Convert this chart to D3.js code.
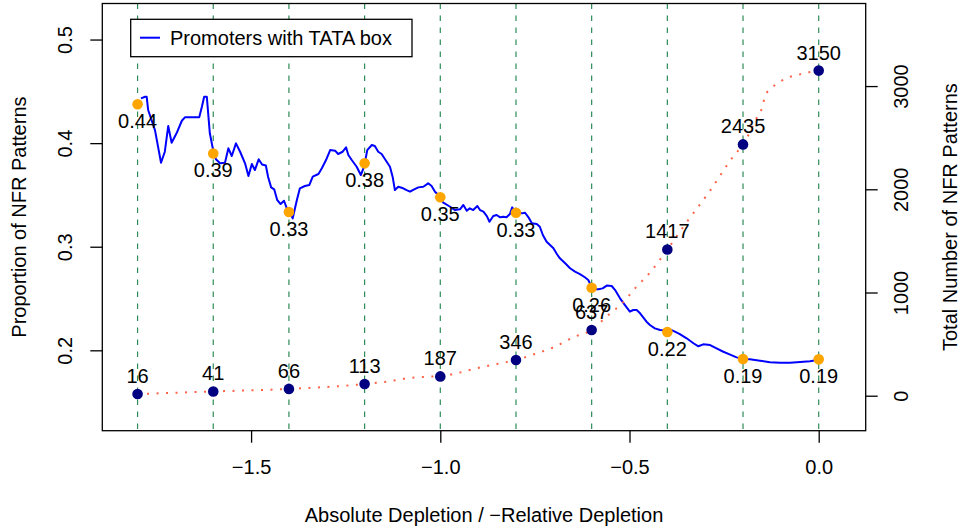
<!DOCTYPE html>
<html>
<head>
<meta charset="utf-8">
<script src="https://cdn.jsdelivr.net/npm/d3@7"></script>
<style>
  html, body { margin: 0; padding: 0; background: #ffffff; }
  svg { display: block; font-family: "Liberation Sans", Arial, Helvetica, sans-serif; }
</style>
</head>
<body>
<svg id="chart" width="964" height="531"></svg>
<script>
// ---------------- data ----------------
const xBreaks = [-1.8, -1.6, -1.4, -1.2, -1.0, -0.8, -0.6, -0.4, -0.2, 0.0];
const propValues = [0.4375, 0.390, 0.3335, 0.3805, 0.3477, 0.3328, 0.2604, 0.2177, 0.1916, 0.1913];
const propLabels = ["0.44", "0.39", "0.33", "0.38", "0.35", "0.33", "0.26", "0.22", "0.19", "0.19"];
const countValues = [16, 41, 66, 113, 187, 346, 637, 1417, 2435, 3150];
const countLabels = ["16", "41", "66", "113", "187", "346", "637", "1417", "2435", "3150"];

// finer-resolution total count curve (dotted red)
const countCurveX = [-1.8, -1.6, -1.4, -1.2, -1.142, -1.087, -1.034, -1.0, -0.957, -0.904,
  -0.851, -0.8, -0.745, -0.697, -0.649, -0.6, -0.559, -0.518, -0.483, -0.446,
  -0.4, -0.351, -0.287, -0.226, -0.2, -0.16, -0.148, -0.142, -0.126, -0.102,
  -0.079, -0.055, -0.032, 0.0];
const countCurveY = [16, 41, 66, 113, 136, 169, 184, 187, 217, 266,
  307, 346, 411, 475, 566, 637, 772, 901, 1050, 1192,
  1417, 1671, 1987, 2317, 2435, 2720, 2807, 2904, 2975, 3043,
  3085, 3108, 3130, 3150];

const tataX = [-1.791, -1.780, -1.776, -1.772, -1.754, -1.738, -1.728, -1.719, -1.710, -1.697,
  -1.683, -1.675, -1.637, -1.630, -1.624, -1.617, -1.609, -1.600, -1.593, -1.582,
  -1.569, -1.560, -1.551, -1.540, -1.529, -1.516, -1.507, -1.498, -1.490, -1.480,
  -1.471, -1.461, -1.455, -1.447, -1.439, -1.431, -1.422, -1.413, -1.406, -1.399,
  -1.390, -1.379, -1.371, -1.358, -1.346, -1.337, -1.322, -1.313, -1.302, -1.291,
  -1.278, -1.270, -1.258, -1.249, -1.243, -1.234, -1.221, -1.210, -1.201, -1.193,
  -1.181, -1.173, -1.164, -1.155, -1.146, -1.133, -1.126, -1.120, -1.111, -1.098,
  -1.089, -1.080, -1.069, -1.058, -1.045, -1.032, -1.023, -1.014, -1.005, -0.992,
  -0.974, -0.961, -0.948, -0.939, -0.930, -0.922, -0.913, -0.902, -0.895, -0.886,
  -0.877, -0.870, -0.860, -0.851, -0.842, -0.834, -0.825, -0.816, -0.810, -0.805,
  -0.794, -0.785, -0.776, -0.767, -0.758, -0.745, -0.737, -0.729, -0.719, -0.710,
  -0.701, -0.692, -0.684, -0.670, -0.657, -0.644, -0.631, -0.618, -0.609, -0.600,
  -0.591, -0.582, -0.571, -0.560, -0.547, -0.538, -0.525, -0.512, -0.499, -0.490,
  -0.481, -0.472, -0.455, -0.446, -0.433, -0.419, -0.402, -0.393, -0.380, -0.367,
  -0.349, -0.331, -0.318, -0.305, -0.287, -0.270, -0.252, -0.234, -0.217, -0.199,
  -0.182, -0.155, -0.129, -0.102, -0.076, -0.049, -0.023, 0.000];
const tataY = [0.4432, 0.4448, 0.4448, 0.4320, 0.4126, 0.3811, 0.3917, 0.4165, 0.4004, 0.4095,
  0.4216, 0.4249, 0.4249, 0.4351, 0.4448, 0.4448, 0.4095, 0.3927, 0.3844, 0.3805,
  0.3811, 0.3950, 0.3876, 0.3998, 0.3917, 0.3805, 0.3682, 0.3798, 0.3740, 0.3844,
  0.3793, 0.3784, 0.3673, 0.3573, 0.3554, 0.3451, 0.3412, 0.3444, 0.3376, 0.3338,
  0.3274, 0.3451, 0.3564, 0.3586, 0.3596, 0.3676, 0.3702, 0.3757, 0.3837, 0.3933,
  0.3927, 0.3895, 0.3917, 0.3959, 0.3885, 0.3837, 0.3772, 0.3692, 0.3779, 0.3933,
  0.3982, 0.3972, 0.3917, 0.3895, 0.3844, 0.3772, 0.3676, 0.3547, 0.3579, 0.3564,
  0.3547, 0.3531, 0.3554, 0.3573, 0.3579, 0.3612, 0.3586, 0.3531, 0.3499, 0.3425,
  0.3386, 0.3354, 0.3361, 0.3403, 0.3347, 0.3371, 0.3354, 0.3393, 0.3354, 0.3338,
  0.3296, 0.3241, 0.3296, 0.3306, 0.3284, 0.3290, 0.3284, 0.3316, 0.3380, 0.3354,
  0.3338, 0.3322, 0.3328, 0.3284, 0.3226, 0.3219, 0.3193, 0.3113, 0.3048, 0.3016,
  0.2985, 0.2930, 0.2888, 0.2840, 0.2792, 0.2759, 0.2736, 0.2705, 0.2679, 0.2614,
  0.2589, 0.2589, 0.2598, 0.2625, 0.2621, 0.2582, 0.2502, 0.2437, 0.2373, 0.2389,
  0.2389, 0.2357, 0.2276, 0.2244, 0.2212, 0.2196, 0.2191, 0.2203, 0.2180, 0.2157,
  0.2116, 0.2068, 0.2039, 0.2058, 0.2051, 0.2019, 0.1986, 0.1959, 0.1932, 0.1916,
  0.1913, 0.1900, 0.1884, 0.1880, 0.1880, 0.1887, 0.1894, 0.1908];

const xTicks = [-1.5, -1.0, -0.5, 0.0];
const leftTicks = [0.2, 0.3, 0.4, 0.5];
const rightTicks = [0, 1000, 2000, 3000];

const legendLabel = "Promoters with TATA box";
const xTitle = "Absolute Depletion / \u2212Relative Depletion";
const leftTitle = "Proportion of NFR Patterns";
const rightTitle = "Total Number of NFR Patterns";

// ---------------- layout ----------------
const plot = { left: 102.3, right: 865.7, top: 3.5, bottom: 430.7 };
const FONT = 20;

const svg = d3.select("#chart");

const x = d3.scaleLinear().domain([-1.8932, 0.1242]).range([plot.left, plot.right]);
const yL = d3.scaleLinear().domain([0.1224, 0.5348]).range([plot.bottom, plot.top]);
const yR = d3.scaleLinear().domain([-339, 3800]).range([plot.bottom, plot.top]);

// dashed vertical reference lines
svg.append("g").selectAll("line").data(xBreaks).join("line")
  .attr("x1", d => x(d)).attr("x2", d => x(d))
  .attr("y1", plot.top).attr("y2", plot.bottom)
  .attr("stroke", "#2E8B57").attr("stroke-width", 1.2)
  .attr("stroke-dasharray", "5.5 6.5");

// blue line
const tataData = tataX.map((v, i) => [v, tataY[i]]);
svg.append("path").datum(tataData)
  .attr("fill", "none").attr("stroke", "#0000FF").attr("stroke-width", 2)
  .attr("stroke-linejoin", "round")
  .attr("d", d3.line().x(d => x(d[0])).y(d => yL(d[1])));

// orange proportion points + labels
svg.append("g").selectAll("circle").data(xBreaks).join("circle")
  .attr("cx", d => x(d)).attr("cy", (d, i) => yL(propValues[i]))
  .attr("r", 5.3).attr("fill", "#FFA500");
svg.append("g").selectAll("text").data(xBreaks).join("text")
  .attr("x", d => x(d)).attr("y", (d, i) => yL(propValues[i]) + 24)
  .attr("text-anchor", "middle").attr("font-size", FONT).attr("fill", "#000")
  .text((d, i) => propLabels[i]);

// red dotted count curve
const countData = countCurveX.map((v, i) => [v, countCurveY[i]]);
svg.append("path").datum(countData)
  .attr("fill", "none").attr("stroke", "#FF6347").attr("stroke-width", 2)
  .attr("stroke-dasharray", "2 7.5")
  .attr("d", d3.line().curve(d3.curveMonotoneX).x(d => x(d[0])).y(d => yR(d[1])));

// navy count points + labels
svg.append("g").selectAll("circle").data(xBreaks).join("circle")
  .attr("cx", d => x(d)).attr("cy", (d, i) => yR(countValues[i]))
  .attr("r", 5.3).attr("fill", "#000080");
svg.append("g").selectAll("text").data(xBreaks).join("text")
  .attr("x", d => x(d)).attr("y", (d, i) => yR(countValues[i]) - 11)
  .attr("text-anchor", "middle").attr("font-size", FONT).attr("fill", "#000")
  .text((d, i) => countLabels[i]);

// box
svg.append("rect")
  .attr("x", plot.left).attr("y", plot.top)
  .attr("width", plot.right - plot.left).attr("height", plot.bottom - plot.top)
  .attr("fill", "none").attr("stroke", "#000").attr("stroke-width", 1.3);

// axes
const fmt1 = d3.format(".1f");
const gx = svg.append("g").attr("transform", `translate(0,${plot.bottom})`)
  .call(d3.axisBottom(x).tickValues(xTicks).tickFormat(fmt1).tickSize(12).tickSizeOuter(0));
gx.select(".domain").remove();
gx.selectAll("line").attr("stroke-width", 1.3);
gx.selectAll("text").attr("font-size", FONT).attr("font-family", "Liberation Sans, Arial, sans-serif")
  .attr("y", 0).attr("dy", 0).attr("transform", "translate(0,43.3)");

const gl = svg.append("g").attr("transform", `translate(${plot.left},0)`)
  .call(d3.axisLeft(yL).tickValues(leftTicks).tickFormat(fmt1).tickSize(12).tickSizeOuter(0));
gl.select(".domain").remove();
gl.selectAll("line").attr("stroke-width", 1.3);
gl.selectAll("text").attr("font-size", FONT).attr("font-family", "Liberation Sans, Arial, sans-serif")
  .attr("x", 0).attr("dy", 0).attr("text-anchor", "middle")
  .attr("transform", "translate(-30.3,0) rotate(-90)");

const gr = svg.append("g").attr("transform", `translate(${plot.right},0)`)
  .call(d3.axisRight(yR).tickValues(rightTicks).tickFormat(d3.format("d")).tickSize(12).tickSizeOuter(0));
gr.select(".domain").remove();
gr.selectAll("line").attr("stroke-width", 1.3);
gr.selectAll("text").attr("font-size", FONT).attr("font-family", "Liberation Sans, Arial, sans-serif")
  .attr("x", 0).attr("dy", 0).attr("text-anchor", "middle")
  .attr("transform", "translate(42.6,0) rotate(-90)");

// titles
const midY = (plot.top + plot.bottom) / 2;
svg.append("text").attr("x", (plot.left + plot.right) / 2).attr("y", 521.7)
  .attr("text-anchor", "middle").attr("font-size", FONT).text(xTitle);
svg.append("text").attr("transform", `translate(26,${midY}) rotate(-90)`)
  .attr("text-anchor", "middle").attr("font-size", FONT).text(leftTitle);
svg.append("text").attr("transform", `translate(956.7,${midY}) rotate(-90)`)
  .attr("text-anchor", "middle").attr("font-size", FONT).text(rightTitle);

// legend
const lg = svg.append("g");
lg.append("rect").attr("x", 130.7).attr("y", 19.3).attr("width", 412 - 130.7).attr("height", 56.7 - 19.3)
  .attr("fill", "#fff").attr("stroke", "#000").attr("stroke-width", 1.3);
lg.append("line").attr("x1", 140).attr("x2", 160).attr("y1", 37.7).attr("y2", 37.7)
  .attr("stroke", "#0000FF").attr("stroke-width", 2);
lg.append("text").attr("x", 170).attr("y", 45).attr("font-size", FONT).text(legendLabel);
</script>
</body>
</html>
